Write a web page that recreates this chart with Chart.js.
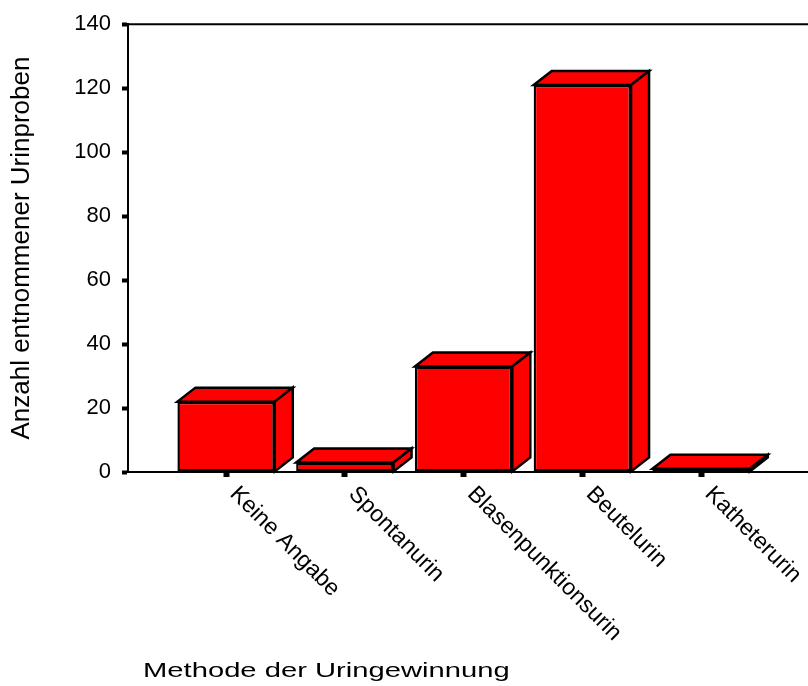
<!DOCTYPE html>
<html>
<head>
<meta charset="utf-8">
<script src="https://cdn.jsdelivr.net/npm/chart.js@4.4.1/dist/chart.umd.min.js"></script>
<style>
  html, body { margin: 0; padding: 0; background: #fff; }
  #wrap { width: 808px; height: 686px; }
</style>
</head>
<body>
<div id="wrap"><canvas id="methodChart"></canvas></div>
<script>
// Urinproben nach Methode der Gewinnung
const methods = ['Keine Angabe', 'Spontanurin', 'Blasenpunktionsurin', 'Beutelurin', 'Katheterurin'];
const sampleCounts = [22, 3, 33, 121, 1];
const yTicks = [0, 20, 40, 60, 80, 100, 120, 140];
const xTitle = 'Methode der Uringewinnung';
const yTitle = 'Anzahl entnommener Urinproben';

const FONT = '"Liberation Sans", Arial, sans-serif';
const DEPTH_X = 18;   // depth of the 3d boxes
const DEPTH_Y = 14;

// top and right face of every bar, plus the rotated category labels
const boxes3d = {
    id: 'boxes3d',
    afterDatasetsDraw(chart) {
        const ctx = chart.ctx;
        ctx.save();
        ctx.fillStyle = '#ff0000';
        ctx.strokeStyle = '#000';
        ctx.lineWidth = 2.5;
        chart.getDatasetMeta(0).data.forEach(bar => {
            const l = bar.x - bar.width / 2;
            const r = bar.x + bar.width / 2;
            const t = bar.y;
            const b = bar.base;
            ctx.beginPath();
            ctx.moveTo(l, t);
            ctx.lineTo(l + DEPTH_X, t - DEPTH_Y);
            ctx.lineTo(r + DEPTH_X, t - DEPTH_Y);
            ctx.lineTo(r, t);
            ctx.closePath();
            ctx.fill();
            ctx.stroke();

            ctx.beginPath();
            ctx.moveTo(r, t);
            ctx.lineTo(r + DEPTH_X, t - DEPTH_Y);
            ctx.lineTo(r + DEPTH_X, b - DEPTH_Y);
            ctx.lineTo(r, b);
            ctx.closePath();
            ctx.fill();
            ctx.stroke();
        });
        ctx.restore();
    },
    afterDraw(chart) {
        const ctx = chart.ctx;
        const area = chart.chartArea;
        const xScale = chart.scales.x;
        ctx.save();

        // frame line along the top
        ctx.strokeStyle = '#000';
        ctx.lineWidth = 2;
        ctx.beginPath();
        ctx.moveTo(area.left, area.top);
        ctx.lineTo(area.right, area.top);
        ctx.stroke();

        ctx.fillStyle = '#000';
        ctx.textAlign = 'left';
        ctx.textBaseline = 'alphabetic';
        ctx.font = '23px ' + FONT;
        methods.forEach((name, i) => {
            const px = xScale.getPixelForValue(i);
            ctx.save();
            ctx.translate(px + 3, area.bottom + 23);
            ctx.rotate(Math.PI / 4);
            ctx.fillText(name, 0, 0);
            ctx.restore();
        });

        // axis title, drawn wide
        ctx.font = '21px ' + FONT;
        ctx.translate(143, 677);
        ctx.scale(1.39, 1);
        ctx.fillText(xTitle, 0, 0);
        ctx.restore();
    }
};

new Chart(document.getElementById('methodChart'), {
    type: 'bar',
    data: {
        datasets: [{
            data: sampleCounts.map((v, i) => ({ x: i, y: v })),
            backgroundColor: '#ff0000',
            borderColor: '#000',
            borderWidth: 2.5,
            borderSkipped: false,
            barPercentage: 0.82,
            categoryPercentage: 1
        }]
    },
    options: {
        responsive: true,
        maintainAspectRatio: false,
        animation: false,
        layout: { padding: { top: 21, right: 0, bottom: 0, left: 0 } },
        plugins: {
            legend: { display: false },
            tooltip: { enabled: false }
        },
        scales: {
            x: {
                type: 'linear',
                offset: false,
                min: -0.826,
                max: 4.9,
                afterBuildTicks: scale => {
                    scale.ticks = methods.map((m, i) => ({ value: i }));
                },
                afterFit: scale => { scale.height = 214; },
                ticks: { display: false },
                grid: {
                    offset: false,
                    drawOnChartArea: false,
                    tickLength: 5,
                    tickWidth: 6,
                    tickColor: '#000'
                },
                border: { color: '#000', width: 2 }
            },
            y: {
                min: 0,
                max: 140,
                afterBuildTicks: scale => {
                    scale.ticks = yTicks.map(v => ({ value: v }));
                },
                afterFit: scale => { scale.width = 128; },
                ticks: {
                    color: '#000',
                    padding: 11,
                    font: { family: FONT, size: 22 }
                },
                grid: {
                    drawOnChartArea: false,
                    tickLength: 6,
                    tickWidth: 4,
                    tickColor: '#000'
                },
                border: { color: '#000', width: 2 },
                title: {
                    display: true,
                    text: yTitle,
                    color: '#000',
                    padding: { top: 6, bottom: 0 },
                    font: { family: FONT, size: 26, lineHeight: 1.2 }
                }
            }
        }
    },
    plugins: [boxes3d]
});
</script>
</body>
</html>
